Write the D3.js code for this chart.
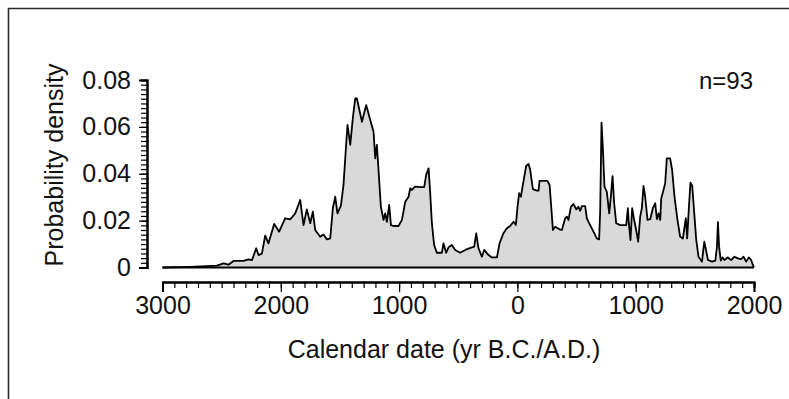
<!DOCTYPE html>
<html lang="en">
<head>
  <meta charset="utf-8">
  <title>Probability density, n=93</title>
  <script src="https://d3js.org/d3.v7.min.js" charset="utf-8"></script>
  <style>
    body { margin: 0; background: #fff; }
    svg text { font-family: "Liberation Sans", Arial, sans-serif; fill: #111; }
  </style>
</head>
<body>
  <script>

    // calendar years (B.C. negative) and summed probability density
    var years = [-3000, -2766, -2540, -2484, -2442, -2400, -2315, -2273, -2244, -2208, -2188, -2160,
      -2132, -2104, -2056, -2014, -1963, -1921, -1878, -1836, -1808, -1780, -1751, -1729, -1709,
      -1667, -1639, -1610, -1582, -1560, -1540, -1521, -1492, -1470, -1447, -1436, -1413, -1391,
      -1371, -1357, -1314, -1278, -1244, -1216, -1202, -1188, -1174, -1154, -1132, -1117, -1103,
      -1084, -1069, -1047, -1005, -976, -948, -920, -906, -892, -864, -807, -788, -771, -751, -737,
      -723, -704, -681, -638, -625, -602, -582, -554, -526, -484, -441, -385, -365, -348, -329,
      -300, -281, -244, -216, -173, -151, -118, -89, -61, -33, -13, 1, 15, 30, 41, 58, 74, 94, 108,
      131, 165, 179, 187, 254, 272, 286, 300, 319, 356, 376, 404, 418, 432, 452, 474, 497, 516, 531,
      545, 573, 587, 615, 643, 671, 691, 700, 711, 722, 736, 756, 776, 790, 804, 818, 835, 869, 920,
      934, 942, 956, 970, 987, 1004, 1021, 1038, 1052, 1066, 1080, 1100, 1123, 1145, 1165, 1179,
      1193, 1207, 1216, 1235, 1249, 1263, 1291, 1308, 1328, 1353, 1376, 1399, 1413, 1424, 1435,
      1450, 1463, 1478, 1495, 1512, 1531, 1560, 1580, 1594, 1611, 1645, 1673, 1687, 1695, 1705,
      1719, 1733, 1750, 1778, 1806, 1835, 1863, 1891, 1911, 1934, 1956, 1976, 1990, 2000];

    var density = [0, 0.0003, 0.0008, 0.0018, 0.0012, 0.0028, 0.0028, 0.0035, 0.0031, 0.0082, 0.0053, 0.0059,
      0.0136, 0.0103, 0.0186, 0.0153, 0.021, 0.0205, 0.0231, 0.0288, 0.0181, 0.0248, 0.0189, 0.0238, 0.016,
      0.0131, 0.0141, 0.012, 0.0124, 0.0253, 0.0302, 0.0231, 0.0264, 0.0352, 0.053, 0.0608, 0.0523, 0.0637,
      0.0722, 0.0721, 0.0622, 0.0693, 0.0629, 0.0579, 0.0466, 0.0523, 0.0416, 0.0259, 0.0203, 0.0231, 0.0195,
      0.0267, 0.0181, 0.0177, 0.0177, 0.0203, 0.0281, 0.0302, 0.0338, 0.0331, 0.0345, 0.0343, 0.0343, 0.0395, 0.0423, 0.0317,
      0.0189, 0.0096, 0.0063, 0.0063, 0.0103, 0.0063, 0.0086, 0.0096, 0.0075, 0.0063, 0.0075, 0.0086, 0.0089, 0.0146, 0.0082,
      0.0046, 0.0075, 0.0053, 0.0043, 0.0043, 0.0103, 0.0146, 0.0167, 0.0177, 0.0195, 0.0181, 0.0259, 0.0317, 0.0302, 0.0338, 0.0387, 0.0433, 0.0442, 0.0417,
      0.0334, 0.0328, 0.0328, 0.037, 0.037, 0.0352, 0.0259, 0.016, 0.0174, 0.0163, 0.016, 0.021, 0.0217, 0.0203, 0.0259, 0.0271, 0.0248, 0.0259, 0.0242,
      0.0262, 0.0262, 0.021, 0.0181, 0.0153, 0.0124, 0.012, 0.0245, 0.0618, 0.0515, 0.0345, 0.0323, 0.0231, 0.0302, 0.039, 0.0274, 0.0189, 0.0181, 0.0181,
      0.0253, 0.0189, 0.0117, 0.0253, 0.0203, 0.016, 0.011, 0.0217, 0.0253, 0.0348, 0.0302, 0.0203, 0.0206, 0.0253, 0.0274, 0.0206,
      0.0231, 0.0203, 0.0295, 0.0331, 0.0359, 0.0466, 0.0466, 0.0416, 0.0302, 0.0203, 0.0131, 0.0124, 0.0174, 0.021, 0.0124,
      0.0259, 0.0362, 0.0348, 0.0231, 0.0117, 0.0046, 0.0025, 0.011, 0.0075, 0.0032, 0.0025, 0.0029, 0.0089, 0.0193, 0.0089,
      0.0029, 0.0043, 0.0032, 0.0043, 0.0032, 0.0046, 0.0039, 0.0036, 0.0046, 0.0025, 0.0043, 0.0032, 0.0011, 0];

    var yTicks = [0, 0.02, 0.04, 0.06, 0.08];
    var xTicks = [-3000, -2000, -1000, 0, 1000, 2000];
    var sampleLabel = "n=93";

    var w = 789;
    var h = 399;
    var fontSize = 25;

    var svg = d3.select("body")
      .append("svg")
      .attr("width", w)
      .attr("height", h);

    // frame, only top and left edges show in the picture
    svg.append("path")
      .attr("d", "M8.5," + h + "V8.5H" + w)
      .attr("fill", "none")
      .attr("stroke", "#2a2a2a")
      .attr("stroke-width", 1.6);

    var x = d3.scaleLinear().domain([-3000, 2000]).range([162.5, 754]);
    var y = d3.scaleLinear().domain([0, 0.08]).range([267.5, 80]);

    var pts = years.map(function(d, i) { return [d, density[i]]; });

    var area = d3.area()
      .x(function(d) { return x(d[0]); })
      .y0(y(0))
      .y1(function(d) { return y(d[1]); });

    var line = d3.line()
      .x(function(d) { return x(d[0]); })
      .y(function(d) { return y(d[1]); });

    svg.append("path")
      .datum(pts)
      .attr("d", area)
      .attr("fill", "#d9d9d9");

    svg.append("path")
      .datum(pts)
      .attr("d", line)
      .attr("fill", "none")
      .attr("stroke", "#000")
      .attr("stroke-width", 1.8)
      .attr("stroke-linejoin", "round");

    // zero line under the curve
    svg.append("line")
      .attr("x1", x(-3000)).attr("x2", x(2000))
      .attr("y1", y(0)).attr("y2", y(0))
      .attr("stroke", "#000")
      .attr("stroke-width", 2);

    // y axis: minor ticks every 0.002, then major ones with labels
    svg.append("g")
      .attr("transform", "translate(147,0)")
      .call(d3.axisLeft(y).tickValues(d3.range(0, 0.0801, 0.002)).tickSize(6).tickFormat(""));

    svg.append("g")
      .attr("transform", "translate(147,0)")
      .call(d3.axisLeft(y).tickValues(yTicks).tickSize(8).tickPadding(8)
        .tickFormat(function(d) { return d === 0 ? "0" : d3.format(".2f")(d); }));

    // x axis below the plot
    svg.append("g")
      .attr("transform", "translate(0,282)")
      .call(d3.axisBottom(x).tickValues(d3.range(-3000, 2001, 100)).tickSize(6).tickFormat(""));

    svg.append("g")
      .attr("transform", "translate(0,282)")
      .call(d3.axisBottom(x).tickValues(xTicks).tickSize(10).tickPadding(4)
        .tickFormat(function(d) { return Math.abs(d); }));

    svg.selectAll(".domain").attr("stroke", "#000").attr("stroke-width", 2);
    svg.selectAll(".tick line").attr("stroke", "#000").attr("stroke-width", 1.2);
    svg.selectAll(".tick text")
      .attr("font-size", fontSize)
      .attr("font-family", "Liberation Sans, Arial, sans-serif")
      .attr("fill", "#111");

    svg.append("text")
      .attr("x", 753)
      .attr("y", 89)
      .attr("text-anchor", "end")
      .attr("font-size", 24)
      .text(sampleLabel);

    svg.append("text")
      .attr("transform", "translate(63,165) rotate(-90)")
      .attr("text-anchor", "middle")
      .attr("font-size", fontSize)
      .text("Probability density");

    svg.append("text")
      .attr("x", 444)
      .attr("y", 358)
      .attr("text-anchor", "middle")
      .attr("font-size", fontSize)
      .text("Calendar date (yr B.C./A.D.)");

  </script>
</body>
</html>
